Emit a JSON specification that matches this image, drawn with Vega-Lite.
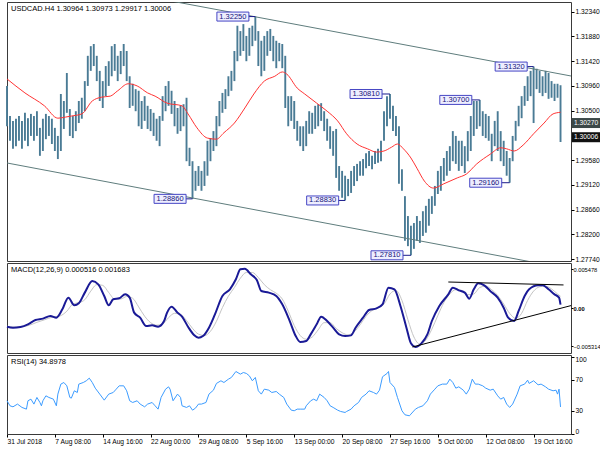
{
"$schema": "https://vega.github.io/schema/vega-lite/v6.json",
"padding": {"left": 2, "top": 1, "right": 34, "bottom": 4},
"background": "white",
"bounds": "flush",
"spacing": 2,
"config": {
 "view": {"stroke": "#3a3a3a", "strokeWidth": 1},
 "axis": {"labelFont": "Liberation Sans", "labelFontSize": 6.7, "labelColor": "#000", "tickColor": "#000", "tickSize": 3, "labelPadding": 1, "domain": false, "grid": false, "labelOverlap": false, "labelBound": false, "labelFlush": false},
 "title": {"font": "Liberation Sans", "fontSize": 7.5, "fontWeight": "normal", "color": "#000", "anchor": "start", "frame": "group", "offset": -10, "dx": 4}
},
"datasets": {
 "bars": [
 {"t":0,"h":1.3096,"l":1.3021},{"t":2,"h":1.3040,"l":1.2994},{"t":4,"h":1.3031,"l":1.2979},{"t":6,"h":1.3035,"l":1.2984},{"t":8,"h":1.3040,"l":1.2994},{"t":10,"h":1.3031,"l":1.2979},{"t":12,"h":1.3046,"l":1.2994},{"t":14,"h":1.3036,"l":1.2984},{"t":16,"h":1.3044,"l":1.3003},{"t":18,"h":1.3040,"l":1.2994},
 {"t":20,"h":1.3049,"l":1.3003},{"t":22,"h":1.3018,"l":1.2966},{"t":24,"h":1.3035,"l":1.2975},{"t":26,"h":1.3044,"l":1.2997},{"t":28,"h":1.3040,"l":1.3003},{"t":30,"h":1.3035,"l":1.2988},{"t":32,"h":1.3018,"l":1.2975},{"t":34,"h":1.3003,"l":1.2960},{"t":36,"h":1.3081,"l":1.2975},{"t":38,"h":1.3068,"l":1.3016},
 {"t":40,"h":1.3120,"l":1.3046},{"t":42,"h":1.3053,"l":1.3003},{"t":44,"h":1.3040,"l":1.2999},{"t":46,"h":1.3049,"l":1.3012},{"t":48,"h":1.3068,"l":1.3027},{"t":50,"h":1.3074,"l":1.3035},{"t":52,"h":1.3105,"l":1.3049},{"t":54,"h":1.3152,"l":1.3096},{"t":56,"h":1.3170,"l":1.3124},{"t":58,"h":1.3174,"l":1.3133},
 {"t":60,"h":1.3152,"l":1.3105},{"t":62,"h":1.3124,"l":1.3068},{"t":64,"h":1.3105,"l":1.3055},{"t":66,"h":1.3133,"l":1.3077},{"t":68,"h":1.3142,"l":1.3096},{"t":70,"h":1.3170,"l":1.3114},{"t":72,"h":1.3174,"l":1.3124},{"t":74,"h":1.3152,"l":1.3105},{"t":76,"h":1.3161,"l":1.3118},{"t":78,"h":1.3174,"l":1.3133},
 {"t":80,"h":1.3161,"l":1.3105},{"t":82,"h":1.3114,"l":1.3055},{"t":84,"h":1.3100,"l":1.3059},{"t":86,"h":1.3090,"l":1.3049},{"t":88,"h":1.3087,"l":1.3021},{"t":90,"h":1.3068,"l":1.3016},{"t":92,"h":1.3077,"l":1.3031},{"t":94,"h":1.3059,"l":1.3016},{"t":96,"h":1.3053,"l":1.3012},{"t":98,"h":1.3046,"l":1.3003},
 {"t":100,"h":1.3035,"l":1.2994},{"t":102,"h":1.3040,"l":1.2984},{"t":104,"h":1.3077,"l":1.3031},{"t":106,"h":1.3096,"l":1.3049},{"t":108,"h":1.3105,"l":1.3059},{"t":110,"h":1.3087,"l":1.3044},{"t":112,"h":1.3068,"l":1.3021},{"t":114,"h":1.3055,"l":1.3007},{"t":116,"h":1.3059,"l":1.3012},{"t":118,"h":1.3062,"l":1.3021},
 {"t":120,"h":1.3074,"l":1.2956},{"t":122,"h":1.2981,"l":1.2947},{"t":124,"h":1.2956,"l":1.2886},{"t":126,"h":1.2938,"l":1.2901},{"t":128,"h":1.2947,"l":1.2910},{"t":130,"h":1.2938,"l":1.2901},{"t":132,"h":1.2956,"l":1.2910},{"t":134,"h":1.2994,"l":1.2929},{"t":136,"h":1.2999,"l":1.2956},{"t":138,"h":1.3012,"l":1.2975},
 {"t":140,"h":1.3040,"l":1.2984},{"t":142,"h":1.3068,"l":1.3021},{"t":144,"h":1.3083,"l":1.3046},{"t":146,"h":1.3090,"l":1.3053},{"t":148,"h":1.3114,"l":1.3077},{"t":150,"h":1.3124,"l":1.3087},{"t":152,"h":1.3161,"l":1.3105},{"t":154,"h":1.3208,"l":1.3142},{"t":156,"h":1.3198,"l":1.3152},{"t":158,"h":1.3211,"l":1.3161},
 {"t":160,"h":1.3189,"l":1.3142},{"t":162,"h":1.3204,"l":1.3152},{"t":164,"h":1.3208,"l":1.3170},{"t":166,"h":1.3225,"l":1.3180},{"t":168,"h":1.3198,"l":1.3133},{"t":170,"h":1.3180,"l":1.3114},{"t":172,"h":1.3189,"l":1.3124},{"t":174,"h":1.3198,"l":1.3152},{"t":176,"h":1.3202,"l":1.3161},{"t":178,"h":1.3189,"l":1.3142},
 {"t":180,"h":1.3180,"l":1.3129},{"t":182,"h":1.3176,"l":1.3142},{"t":184,"h":1.3174,"l":1.3129},{"t":186,"h":1.3152,"l":1.3055},{"t":188,"h":1.3077,"l":1.3021},{"t":190,"h":1.3077,"l":1.3031},{"t":192,"h":1.3068,"l":1.3016},{"t":194,"h":1.3031,"l":1.2994},{"t":196,"h":1.3021,"l":1.2984},{"t":198,"h":1.3021,"l":1.2975},
 {"t":200,"h":1.3031,"l":1.2984},{"t":202,"h":1.3049,"l":1.3007},{"t":204,"h":1.3046,"l":1.3007},{"t":206,"h":1.3059,"l":1.3016},{"t":208,"h":1.3062,"l":1.3021},{"t":210,"h":1.3064,"l":1.3031},{"t":212,"h":1.3049,"l":1.3012},{"t":214,"h":1.3035,"l":1.2994},{"t":216,"h":1.3021,"l":1.2979},{"t":218,"h":1.3012,"l":1.2966},
 {"t":220,"h":1.3016,"l":1.2925},{"t":222,"h":1.2947,"l":1.2901},{"t":224,"h":1.2938,"l":1.2888},{"t":226,"h":1.2929,"l":1.2883},{"t":228,"h":1.2923,"l":1.2891},{"t":230,"h":1.2938,"l":1.2897},{"t":232,"h":1.2947,"l":1.2910},{"t":234,"h":1.2951,"l":1.2919},{"t":236,"h":1.2956,"l":1.2929},{"t":238,"h":1.2960,"l":1.2929},
 {"t":240,"h":1.2971,"l":1.2943},{"t":242,"h":1.2975,"l":1.2947},{"t":244,"h":1.2966,"l":1.2941},{"t":246,"h":1.2975,"l":1.2951},{"t":248,"h":1.2979,"l":1.2953},{"t":250,"h":1.2994,"l":1.2956},{"t":252,"h":1.3049,"l":1.2994},{"t":254,"h":1.3077,"l":1.3021},{"t":256,"h":1.3081,"l":1.3035},{"t":258,"h":1.3059,"l":1.3012},
 {"t":260,"h":1.3040,"l":1.3003},{"t":262,"h":1.3021,"l":1.2914},{"t":264,"h":1.2941,"l":1.2901},{"t":266,"h":1.2891,"l":1.2808},{"t":268,"h":1.2854,"l":1.2798},{"t":270,"h":1.2836,"l":1.2781},{"t":272,"h":1.2841,"l":1.2793},{"t":274,"h":1.2854,"l":1.2808},{"t":276,"h":1.2845,"l":1.2804},{"t":278,"h":1.2863,"l":1.2817},
 {"t":280,"h":1.2873,"l":1.2823},{"t":282,"h":1.2886,"l":1.2836},{"t":284,"h":1.2891,"l":1.2858},{"t":286,"h":1.2910,"l":1.2873},{"t":288,"h":1.2938,"l":1.2895},{"t":290,"h":1.2947,"l":1.2901},{"t":292,"h":1.2962,"l":1.2919},{"t":294,"h":1.2975,"l":1.2929},{"t":296,"h":1.2984,"l":1.2938},{"t":298,"h":1.3012,"l":1.2956},
 {"t":300,"h":1.3003,"l":1.2951},{"t":302,"h":1.2994,"l":1.2938},{"t":304,"h":1.2994,"l":1.2947},{"t":306,"h":1.2984,"l":1.2934},{"t":308,"h":1.3012,"l":1.2956},{"t":310,"h":1.3040,"l":1.2975},{"t":312,"h":1.3068,"l":1.3003},{"t":314,"h":1.3068,"l":1.3016},{"t":316,"h":1.3070,"l":1.3021},{"t":318,"h":1.3049,"l":1.3003},
 {"t":320,"h":1.3044,"l":1.2999},{"t":322,"h":1.3040,"l":1.2994},{"t":324,"h":1.3007,"l":1.2956},{"t":326,"h":1.3031,"l":1.2984},{"t":328,"h":1.3049,"l":1.2975},{"t":330,"h":1.3012,"l":1.2956},{"t":332,"h":1.2994,"l":1.2947},{"t":334,"h":1.2975,"l":1.2929},{"t":336,"h":1.2962,"l":1.2916},{"t":338,"h":1.3003,"l":1.2956},
 {"t":340,"h":1.3031,"l":1.2994},{"t":342,"h":1.3059,"l":1.3021},{"t":344,"h":1.3077,"l":1.3036},{"t":346,"h":1.3096,"l":1.3059},{"t":348,"h":1.3114,"l":1.3068},{"t":350,"h":1.3124,"l":1.3077},{"t":352,"h":1.3132,"l":1.3027},{"t":354,"h":1.3128,"l":1.3090},{"t":356,"h":1.3124,"l":1.3083},{"t":358,"h":1.3114,"l":1.3077},
 {"t":360,"h":1.3124,"l":1.3083},{"t":362,"h":1.3120,"l":1.3072},{"t":364,"h":1.3105,"l":1.3074},{"t":366,"h":1.3100,"l":1.3068},{"t":368,"h":1.3100,"l":1.3074},{"t":370,"h":1.30973,"l":1.29917}
 ],
 "ma": [
 {"t":0,"v":1.3109},{"t":12,"v":1.3083},{"t":25,"v":1.3059},{"t":34,"v":1.3036},{"t":39,"v":1.3038},{"t":43,"v":1.3040},{"t":50,"v":1.3044},{"t":57,"v":1.3068},{"t":63,"v":1.3075},{"t":69,"v":1.3077},{"t":74,"v":1.3087},{"t":81,"v":1.3100},{"t":87,"v":1.3096},{"t":94,"v":1.3083},{"t":99,"v":1.3077},{"t":107,"v":1.3064},{"t":117,"v":1.3059},{"t":121,"v":1.3044},{"t":127,"v":1.3018},{"t":134,"v":1.2999},{"t":140,"v":1.2997},{"t":145,"v":1.3009},{"t":152,"v":1.3027},{"t":159,"v":1.3055},{"t":165,"v":1.3081},{"t":172,"v":1.3105},{"t":179,"v":1.3114},{"t":184,"v":1.3122},{"t":187,"v":1.3118},{"t":194,"v":1.3092},{"t":199,"v":1.3081},{"t":207,"v":1.3064},{"t":214,"v":1.3049},{"t":221,"v":1.3031},{"t":227,"v":1.3007},{"t":234,"v":1.2988},{"t":241,"v":1.2979},{"t":247,"v":1.2973},{"t":252,"v":1.2975},{"t":257,"v":1.2982},{"t":261,"v":1.2988},{"t":265,"v":1.2979},{"t":270,"v":1.2962},{"t":274,"v":1.2943},{"t":279,"v":1.2919},{"t":285,"v":1.2906},{"t":292,"v":1.2914},{"t":301,"v":1.2925},{"t":307,"v":1.2932},{"t":314,"v":1.2951},{"t":323,"v":1.2969},{"t":330,"v":1.2981},{"t":334,"v":1.2979},{"t":339,"v":1.2975},{"t":345,"v":1.2986},{"t":352,"v":1.3007},{"t":359,"v":1.3027},{"t":365,"v":1.3044},{"t":370,"v":1.3047}
 ],
 "chan": [
 {"g":"up","t":100,"p":1.3259},{"g":"up","t":377,"p":1.31145},{"g":"dn","t":0,"p":1.29527},{"g":"dn","t":377,"p":1.27548}
 ],
 "piv": [
 {"label":"1.32250","p":1.3225,"tc":151,"tb":166},
 {"label":"1.28860","p":1.2886,"tc":109,"tb":124},
 {"label":"1.30810","p":1.3081,"tc":240,"tb":256},
 {"label":"1.28830","p":1.2883,"tc":211,"tb":226},
 {"label":"1.27810","p":1.2781,"tc":254,"tb":270},
 {"label":"1.30700","p":1.3070,"tc":300,"tb":316},
 {"label":"1.29160","p":1.2916,"tc":320,"tb":336},
 {"label":"1.31320","p":1.3132,"tc":337,"tb":352}
 ],
 "hl": [{"label":"1.30270","p":1.3027},{"label":"1.30006","p":1.30006}],
 "macd": [
 {"t":0,"m":-0.00256},{"t":4,"m":-0.00270},{"t":9,"m":-0.00260},{"t":14,"m":-0.00223},{"t":19,"m":-0.00163},{"t":24,"m":-0.00144},{"t":29,"m":-0.00107},{"t":33,"m":-0.00130},{"t":37,"m":-0.00014},{"t":41,"m":0.00149},{"t":45,"m":0.00042},{"t":48,"m":0.00070},{"t":52,"m":0.00219},{"t":57,"m":0.00381},{"t":61,"m":0.00335},{"t":65,"m":0.00172},{"t":68,"m":0.00042},{"t":71,"m":0.00126},{"t":75,"m":0.00140},{"t":79,"m":0.00195},{"t":82,"m":0.00149},{"t":85,"m":-0.00060},{"t":89,"m":-0.00130},{"t":93,"m":-0.00246},{"t":97,"m":-0.00237},{"t":101,"m":-0.00256},{"t":105,"m":-0.00177},{"t":107,"m":-0.00060},{"t":110,"m":0.00023},{"t":114,"m":-0.00060},{"t":117,"m":-0.00116},{"t":121,"m":-0.00256},{"t":125,"m":-0.00372},{"t":128,"m":-0.00409},{"t":131,"m":-0.00386},{"t":135,"m":-0.00270},{"t":139,"m":-0.00084},{"t":144,"m":0.00172},{"t":149,"m":0.00265},{"t":153,"m":0.00405},{"t":156,"m":0.00544},{"t":159,"m":0.00553},{"t":163,"m":0.00474},{"t":167,"m":0.00395},{"t":170,"m":0.00242},{"t":175,"m":0.00219},{"t":180,"m":0.00172},{"t":184,"m":0.00056},{"t":189,"m":-0.00177},{"t":193,"m":-0.00386},{"t":196,"m":-0.00470},{"t":200,"m":-0.00456},{"t":203,"m":-0.00363},{"t":207,"m":-0.00223},{"t":210,"m":-0.00116},{"t":214,"m":-0.00177},{"t":218,"m":-0.00270},{"t":222,"m":-0.00363},{"t":226,"m":-0.00386},{"t":230,"m":-0.00377},{"t":233,"m":-0.00270},{"t":238,"m":-0.00130},{"t":242,"m":-0.00023},{"t":247,"m":0.00000},{"t":251,"m":0.00056},{"t":255,"m":0.00288},{"t":259,"m":0.00265},{"t":263,"m":0.00033},{"t":267,"m":-0.00270},{"t":270,"m":-0.00488},{"t":273,"m":-0.00539},{"t":277,"m":-0.00488},{"t":281,"m":-0.00363},{"t":284,"m":-0.00177},{"t":289,"m":0.00033},{"t":295,"m":0.00195},{"t":298,"m":0.00288},{"t":302,"m":0.00251},{"t":306,"m":0.00219},{"t":309,"m":0.00135},{"t":312,"m":0.00265},{"t":315,"m":0.00349},{"t":319,"m":0.00321},{"t":323,"m":0.00242},{"t":328,"m":0.00149},{"t":332,"m":0.00009},{"t":335,"m":-0.00130},{"t":339,"m":-0.00177},{"t":342,"m":-0.00037},{"t":346,"m":0.00172},{"t":349,"m":0.00265},{"t":355,"m":0.00321},{"t":358,"m":0.00321},{"t":362,"m":0.00265},{"t":366,"m":0.00195},{"t":369,"m":0.00149},{"t":370,"m":0.00052}
 ],
 "sig": [
 {"t":0,"s":-0.00250},{"t":5,"s":-0.00262},{"t":10,"s":-0.00258},{"t":15,"s":-0.00235},{"t":20,"s":-0.00195},{"t":25,"s":-0.00160},{"t":30,"s":-0.00125},{"t":35,"s":-0.00110},{"t":40,"s":-0.00040},{"t":44,"s":0.00060},{"t":48,"s":0.00080},{"t":52,"s":0.00120},{"t":56,"s":0.00240},{"t":60,"s":0.00330},{"t":64,"s":0.00320},{"t":68,"s":0.00220},{"t":72,"s":0.00130},{"t":76,"s":0.00130},{"t":80,"s":0.00165},{"t":84,"s":0.00140},{"t":88,"s":0.00020},{"t":92,"s":-0.00110},{"t":96,"s":-0.00200},{"t":100,"s":-0.00235},{"t":104,"s":-0.00220},{"t":108,"s":-0.00130},{"t":112,"s":-0.00070},{"t":116,"s":-0.00085},{"t":120,"s":-0.00170},{"t":124,"s":-0.00280},{"t":128,"s":-0.00360},{"t":132,"s":-0.00380},{"t":136,"s":-0.00320},{"t":140,"s":-0.00180},{"t":144,"s":0.00010},{"t":148,"s":0.00170},{"t":152,"s":0.00290},{"t":156,"s":0.00420},{"t":160,"s":0.00500},{"t":164,"s":0.00500},{"t":168,"s":0.00430},{"t":172,"s":0.00330},{"t":176,"s":0.00260},{"t":180,"s":0.00210},{"t":184,"s":0.00130},{"t":188,"s":-0.00040},{"t":192,"s":-0.00240},{"t":196,"s":-0.00380},{"t":200,"s":-0.00430},{"t":204,"s":-0.00400},{"t":208,"s":-0.00300},{"t":212,"s":-0.00200},{"t":216,"s":-0.00200},{"t":220,"s":-0.00280},{"t":224,"s":-0.00340},{"t":228,"s":-0.00370},{"t":232,"s":-0.00330},{"t":236,"s":-0.00230},{"t":240,"s":-0.00110},{"t":244,"s":-0.00030},{"t":248,"s":0.00010},{"t":252,"s":0.00060},{"t":256,"s":0.00200},{"t":260,"s":0.00250},{"t":264,"s":0.00110},{"t":268,"s":-0.00160},{"t":272,"s":-0.00400},{"t":276,"s":-0.00500},{"t":280,"s":-0.00440},{"t":284,"s":-0.00290},{"t":288,"s":-0.00100},{"t":292,"s":0.00080},{"t":296,"s":0.00200},{"t":300,"s":0.00260},{"t":304,"s":0.00250},{"t":308,"s":0.00190},{"t":312,"s":0.00200},{"t":316,"s":0.00290},{"t":320,"s":0.00310},{"t":324,"s":0.00260},{"t":328,"s":0.00180},{"t":332,"s":0.00060},{"t":336,"s":-0.00070},{"t":340,"s":-0.00140},{"t":344,"s":-0.00070},{"t":348,"s":0.00110},{"t":352,"s":0.00240},{"t":356,"s":0.00300},{"t":360,"s":0.00310},{"t":364,"s":0.00270},{"t":368,"s":0.00200},{"t":370,"s":0.00168}
 ],
 "mtl": [
 {"g":"a","t":295,"m":0.00367},{"g":"a","t":372,"m":0.00326},{"g":"b","t":271,"m":-0.00539},{"g":"b","t":377,"m":0.00038}
 ],
 "rsi": [
 {"t":0,"r":42.9},{"t":2,"r":36.4},{"t":4,"r":35.1},{"t":7,"r":38.6},{"t":10,"r":34.3},{"t":13,"r":32.1},{"t":14,"r":42.9},{"t":16,"r":45.0},{"t":18,"r":38.6},{"t":20,"r":47.2},{"t":22,"r":40.7},{"t":23,"r":36.4},{"t":24,"r":42.9},{"t":26,"r":49.3},{"t":28,"r":47.2},{"t":31,"r":45.0},{"t":33,"r":36.4},{"t":34,"r":51.5},{"t":36,"r":64.4},{"t":38,"r":66.5},{"t":40,"r":62.2},{"t":42,"r":47.2},{"t":43,"r":46.3},{"t":45,"r":55.8},{"t":47,"r":53.6},{"t":48,"r":64.4},{"t":51,"r":66.5},{"t":53,"r":68.7},{"t":55,"r":72.1},{"t":57,"r":66.5},{"t":59,"r":59.2},{"t":62,"r":51.5},{"t":65,"r":43.7},{"t":68,"r":51.5},{"t":71,"r":53.6},{"t":73,"r":57.9},{"t":75,"r":62.2},{"t":78,"r":62.2},{"t":80,"r":55.8},{"t":82,"r":42.9},{"t":84,"r":40.7},{"t":87,"r":42.9},{"t":89,"r":38.6},{"t":92,"r":35.1},{"t":94,"r":38.6},{"t":97,"r":40.7},{"t":99,"r":36.4},{"t":101,"r":32.1},{"t":103,"r":47.2},{"t":106,"r":57.9},{"t":108,"r":60.9},{"t":109,"r":57.9},{"t":111,"r":42.9},{"t":114,"r":51.5},{"t":116,"r":47.2},{"t":117,"r":36.4},{"t":120,"r":34.3},{"t":122,"r":36.4},{"t":124,"r":30.8},{"t":126,"r":33.4},{"t":128,"r":38.6},{"t":130,"r":38.6},{"t":133,"r":40.7},{"t":135,"r":51.5},{"t":138,"r":56.6},{"t":140,"r":65.3},{"t":143,"r":68.7},{"t":145,"r":66.5},{"t":148,"r":70.8},{"t":150,"r":73.0},{"t":153,"r":80.7},{"t":156,"r":77.3},{"t":158,"r":79.4},{"t":160,"r":78.2},{"t":162,"r":75.1},{"t":164,"r":68.7},{"t":166,"r":73.0},{"t":168,"r":55.8},{"t":170,"r":51.5},{"t":172,"r":57.9},{"t":175,"r":56.6},{"t":177,"r":53.6},{"t":180,"r":54.9},{"t":182,"r":51.5},{"t":185,"r":47.2},{"t":187,"r":38.6},{"t":190,"r":30.8},{"t":192,"r":30.0},{"t":194,"r":32.1},{"t":196,"r":32.1},{"t":199,"r":32.1},{"t":200,"r":36.4},{"t":203,"r":42.9},{"t":205,"r":45.0},{"t":207,"r":42.9},{"t":209,"r":51.5},{"t":212,"r":47.2},{"t":214,"r":42.9},{"t":216,"r":36.4},{"t":218,"r":34.3},{"t":221,"r":30.8},{"t":223,"r":29.1},{"t":226,"r":27.8},{"t":227,"r":29.1},{"t":230,"r":32.1},{"t":232,"r":36.4},{"t":235,"r":40.7},{"t":237,"r":47.2},{"t":240,"r":51.5},{"t":242,"r":55.8},{"t":245,"r":53.6},{"t":247,"r":51.5},{"t":249,"r":56.6},{"t":251,"r":73.9},{"t":254,"r":78.1},{"t":255,"r":80.7},{"t":256,"r":66.5},{"t":259,"r":60.1},{"t":261,"r":47.2},{"t":264,"r":30.0},{"t":266,"r":24.8},{"t":269,"r":23.5},{"t":270,"r":25.7},{"t":273,"r":32.1},{"t":275,"r":34.3},{"t":278,"r":36.4},{"t":281,"r":42.9},{"t":283,"r":51.5},{"t":286,"r":57.9},{"t":288,"r":62.2},{"t":291,"r":64.4},{"t":294,"r":64.4},{"t":296,"r":70.8},{"t":298,"r":66.5},{"t":300,"r":59.2},{"t":302,"r":60.9},{"t":305,"r":56.6},{"t":307,"r":51.5},{"t":309,"r":57.9},{"t":311,"r":70.8},{"t":313,"r":64.4},{"t":315,"r":64.4},{"t":318,"r":62.2},{"t":320,"r":59.2},{"t":323,"r":56.6},{"t":325,"r":57.9},{"t":328,"r":49.3},{"t":330,"r":45.0},{"t":332,"r":47.2},{"t":334,"r":38.6},{"t":336,"r":34.3},{"t":338,"r":38.6},{"t":341,"r":51.5},{"t":343,"r":62.2},{"t":346,"r":64.4},{"t":348,"r":69.5},{"t":349,"r":65.3},{"t":352,"r":68.7},{"t":355,"r":63.5},{"t":357,"r":64.4},{"t":360,"r":60.9},{"t":362,"r":57.9},{"t":365,"r":55.8},{"t":367,"r":56.6},{"t":368,"r":51.5},{"t":369,"r":57.9},{"t":370,"r":34.9}
 ]
},
"vconcat": [
 {
  "width": 564, "height": 259,
  "title": {"text": "USDCAD.H4  1.30964 1.30973 1.29917 1.30006"},
  "layer": [
   {"mark": {"type": "text", "text": "ActionForex.com", "font": "Liberation Sans", "fontSize": 17, "color": "#c6c6c6"},
    "encoding": {"x": {"datum": 122, "type": "quantitative", "scale": {"domain": [0, 377], "nice": false, "zero": false}, "axis": null},
                 "y": {"datum": 1.2808, "type": "quantitative", "scale": {"domain": [1.27704, 1.32521], "nice": false, "zero": false}, "axis": {"orient": "right", "title": null, "values": [1.2774, 1.282, 1.2866, 1.2912, 1.2958, 1.305, 1.3096, 1.3142, 1.3188, 1.3234], "format": ".5f"}}}},
   {"mark": {"type": "rule", "color": "#cfcfcf", "strokeWidth": 1},
    "encoding": {"y": {"datum": 1.30006, "type": "quantitative", "scale": {"domain": [1.27704, 1.32521], "nice": false, "zero": false}, "axis": {"orient": "right", "title": null, "values": [1.2774, 1.282, 1.2866, 1.2912, 1.2958, 1.305, 1.3096, 1.3142, 1.3188, 1.3234], "format": ".5f"}}}},
   {"mark": {"type": "rule", "color": "#4a5656", "strokeWidth": 1, "strokeDash": [2, 2]},
    "encoding": {"y": {"datum": 1.3027, "type": "quantitative", "scale": {"domain": [1.27704, 1.32521], "nice": false, "zero": false}, "axis": {"orient": "right", "title": null, "values": [1.2774, 1.282, 1.2866, 1.2912, 1.2958, 1.305, 1.3096, 1.3142, 1.3188, 1.3234], "format": ".5f"}}}},
   {"data": {"name": "bars"},
    "mark": {"type": "rule", "color": "#4a7b95", "strokeWidth": 1.9},
    "encoding": {"x": {"field": "t", "type": "quantitative", "scale": {"domain": [0, 377], "nice": false, "zero": false}, "axis": null},
                 "y": {"field": "h", "type": "quantitative", "scale": {"domain": [1.27704, 1.32521], "nice": false, "zero": false}, "axis": {"orient": "right", "title": null, "values": [1.2774, 1.282, 1.2866, 1.2912, 1.2958, 1.305, 1.3096, 1.3142, 1.3188, 1.3234], "format": ".5f"}},
                 "y2": {"field": "l"}}},
   {"data": {"name": "ma"},
    "mark": {"type": "line", "color": "#ff3333", "strokeWidth": 1, "interpolate": "monotone"},
    "encoding": {"x": {"field": "t", "type": "quantitative", "scale": {"domain": [0, 377], "nice": false, "zero": false}, "axis": null},
                 "y": {"field": "v", "type": "quantitative", "scale": {"domain": [1.27704, 1.32521], "nice": false, "zero": false}, "axis": {"orient": "right", "title": null, "values": [1.2774, 1.282, 1.2866, 1.2912, 1.2958, 1.305, 1.3096, 1.3142, 1.3188, 1.3234], "format": ".5f"}}}},
   {"data": {"name": "chan"},
    "mark": {"type": "line", "color": "#5f7d7d", "strokeWidth": 1, "clip": true},
    "encoding": {"x": {"field": "t", "type": "quantitative", "scale": {"domain": [0, 377], "nice": false, "zero": false}, "axis": null},
                 "y": {"field": "p", "type": "quantitative", "scale": {"domain": [1.27704, 1.32521], "nice": false, "zero": false}, "axis": {"orient": "right", "title": null, "values": [1.2774, 1.282, 1.2866, 1.2912, 1.2958, 1.305, 1.3096, 1.3142, 1.3188, 1.3234], "format": ".5f"}},
                 "detail": {"field": "g"}}},
   {"data": {"name": "piv"},
    "mark": {"type": "rule", "color": "#1c1c8c", "strokeWidth": 1},
    "encoding": {"x": {"field": "tc", "type": "quantitative", "scale": {"domain": [0, 377], "nice": false, "zero": false}, "axis": null},
                 "x2": {"field": "tb"},
                 "y": {"field": "p", "type": "quantitative", "scale": {"domain": [1.27704, 1.32521], "nice": false, "zero": false}, "axis": {"orient": "right", "title": null, "values": [1.2774, 1.282, 1.2866, 1.2912, 1.2958, 1.305, 1.3096, 1.3142, 1.3188, 1.3234], "format": ".5f"}}}},
   {"data": {"name": "piv"},
    "mark": {"type": "rect", "width": 32, "height": 9, "fill": "#eeeeff", "stroke": "#4646c4", "strokeWidth": 1},
    "encoding": {"x": {"field": "tc", "type": "quantitative", "scale": {"domain": [0, 377], "nice": false, "zero": false}, "axis": null},
                 "y": {"field": "p", "type": "quantitative", "scale": {"domain": [1.27704, 1.32521], "nice": false, "zero": false}, "axis": {"orient": "right", "title": null, "values": [1.2774, 1.282, 1.2866, 1.2912, 1.2958, 1.305, 1.3096, 1.3142, 1.3188, 1.3234], "format": ".5f"}}}},
   {"data": {"name": "piv"},
    "mark": {"type": "text", "font": "Liberation Sans", "fontSize": 7.5, "color": "#14147a"},
    "encoding": {"x": {"field": "tc", "type": "quantitative", "scale": {"domain": [0, 377], "nice": false, "zero": false}, "axis": null},
                 "y": {"field": "p", "type": "quantitative", "scale": {"domain": [1.27704, 1.32521], "nice": false, "zero": false}, "axis": {"orient": "right", "title": null, "values": [1.2774, 1.282, 1.2866, 1.2912, 1.2958, 1.305, 1.3096, 1.3142, 1.3188, 1.3234], "format": ".5f"}},
                 "text": {"field": "label"}}},
   {"data": {"name": "hl"},
    "mark": {"type": "rect", "width": 30, "height": 10, "xOffset": 16},
    "encoding": {"x": {"datum": 377, "type": "quantitative", "scale": {"domain": [0, 377], "nice": false, "zero": false}, "axis": null},
                 "y": {"field": "p", "type": "quantitative", "scale": {"domain": [1.27704, 1.32521], "nice": false, "zero": false}, "axis": {"orient": "right", "title": null, "values": [1.2774, 1.282, 1.2866, 1.2912, 1.2958, 1.305, 1.3096, 1.3142, 1.3188, 1.3234], "format": ".5f"}},
                 "fill": {"field": "label", "type": "nominal", "scale": {"domain": ["1.30270", "1.30006"], "range": ["#3c4848", "#111111"]}, "legend": null}}},
   {"data": {"name": "hl"},
    "mark": {"type": "text", "font": "Liberation Sans", "fontSize": 6.7, "color": "#ffffff", "align": "left", "dx": 3},
    "encoding": {"x": {"datum": 377, "type": "quantitative", "scale": {"domain": [0, 377], "nice": false, "zero": false}, "axis": null},
                 "y": {"field": "p", "type": "quantitative", "scale": {"domain": [1.27704, 1.32521], "nice": false, "zero": false}, "axis": {"orient": "right", "title": null, "values": [1.2774, 1.282, 1.2866, 1.2912, 1.2958, 1.305, 1.3096, 1.3142, 1.3188, 1.3234], "format": ".5f"}},
                 "text": {"field": "label"}}}
  ]
 },
 {
  "width": 564, "height": 90,
  "title": {"text": "MACD(12,26,9) 0.000516 0.001683"},
  "layer": [
   {"mark": {"type": "rule", "color": "#8a8a8a", "strokeWidth": 1, "strokeDash": [2, 2]},
    "encoding": {"y": {"datum": 0, "type": "quantitative", "scale": {"domain": [-0.00623, 0.00632], "nice": false, "zero": false},
                       "axis": {"orient": "right", "title": null, "labelFontSize": 5.7, "labelPadding": 0, "tickSize": 2, "values": [-0.005314, 0, 0.005478], "labelExpr": "datum.value == 0 ? '0.00' : format(datum.value, '.6f')", "labelFontWeight": {"condition": {"test": "datum.value == 0", "value": "bold"}, "value": "normal"}}}}},
   {"data": {"name": "sig"},
    "mark": {"type": "line", "color": "#c4c4c4", "strokeWidth": 1, "interpolate": "monotone"},
    "encoding": {"x": {"field": "t", "type": "quantitative", "scale": {"domain": [0, 377], "nice": false, "zero": false}, "axis": null},
                 "y": {"field": "s", "type": "quantitative", "scale": {"domain": [-0.00623, 0.00632], "nice": false, "zero": false},
                       "axis": {"orient": "right", "title": null, "labelFontSize": 5.7, "labelPadding": 0, "tickSize": 2, "values": [-0.005314, 0, 0.005478], "labelExpr": "datum.value == 0 ? '0.00' : format(datum.value, '.6f')", "labelFontWeight": {"condition": {"test": "datum.value == 0", "value": "bold"}, "value": "normal"}}}}},
   {"data": {"name": "macd"},
    "mark": {"type": "line", "color": "#1a1a96", "strokeWidth": 2, "interpolate": "monotone"},
    "encoding": {"x": {"field": "t", "type": "quantitative", "scale": {"domain": [0, 377], "nice": false, "zero": false}, "axis": null},
                 "y": {"field": "m", "type": "quantitative", "scale": {"domain": [-0.00623, 0.00632], "nice": false, "zero": false},
                       "axis": {"orient": "right", "title": null, "labelFontSize": 5.7, "labelPadding": 0, "tickSize": 2, "values": [-0.005314, 0, 0.005478], "labelExpr": "datum.value == 0 ? '0.00' : format(datum.value, '.6f')", "labelFontWeight": {"condition": {"test": "datum.value == 0", "value": "bold"}, "value": "normal"}}}}},
   {"data": {"name": "mtl"},
    "mark": {"type": "line", "color": "#000000", "strokeWidth": 1, "clip": true},
    "encoding": {"x": {"field": "t", "type": "quantitative", "scale": {"domain": [0, 377], "nice": false, "zero": false}, "axis": null},
                 "y": {"field": "m", "type": "quantitative", "scale": {"domain": [-0.00623, 0.00632], "nice": false, "zero": false},
                       "axis": {"orient": "right", "title": null, "labelFontSize": 5.7, "labelPadding": 0, "tickSize": 2, "values": [-0.005314, 0, 0.005478], "labelExpr": "datum.value == 0 ? '0.00' : format(datum.value, '.6f')", "labelFontWeight": {"condition": {"test": "datum.value == 0", "value": "bold"}, "value": "normal"}}},
                 "detail": {"field": "g"}}}
  ]
 },
 {
  "width": 564, "height": 79,
  "title": {"text": "RSI(14) 34.8978"},
  "layer": [
   {"mark": {"type": "rule", "color": "#c0c0c0", "strokeWidth": 1, "strokeDash": [3, 3]},
    "encoding": {"y": {"datum": 70, "type": "quantitative", "scale": {"domain": [0, 102], "nice": false, "zero": false},
                       "axis": {"orient": "right", "title": null, "values": [0, 30, 70, 100], "labelFlush": 3}}}},
   {"mark": {"type": "rule", "color": "#c0c0c0", "strokeWidth": 1, "strokeDash": [3, 3]},
    "encoding": {"y": {"datum": 30, "type": "quantitative", "scale": {"domain": [0, 102], "nice": false, "zero": false},
                       "axis": {"orient": "right", "title": null, "values": [0, 30, 70, 100], "labelFlush": 3}}}},
   {"data": {"name": "rsi"},
    "mark": {"type": "line", "color": "#3c9cff", "strokeWidth": 1},
    "encoding": {"x": {"field": "t", "type": "quantitative", "scale": {"domain": [0, 377], "nice": false, "zero": false},
                       "axis": {"orient": "bottom", "title": null, "values": [0, 32, 64, 96, 128, 160, 192, 224, 256, 288, 320, 352],
                                "labelExpr": "['31 Jul 2018','7 Aug 08:00','14 Aug 16:00','22 Aug 00:00','29 Aug 08:00','5 Sep 16:00','13 Sep 00:00','20 Sep 08:00','27 Sep 16:00','5 Oct 00:00','12 Oct 08:00','19 Oct 16:00'][round(datum.value / 32)]",
                                "labelAlign": "left", "labelBaseline": "top", "labelPadding": 1, "tickSize": 3, "labelFlush": false}},
                 "y": {"field": "r", "type": "quantitative", "scale": {"domain": [0, 102], "nice": false, "zero": false},
                       "axis": {"orient": "right", "title": null, "values": [0, 30, 70, 100], "labelFlush": 3}}}}
  ]
 }
]
}
